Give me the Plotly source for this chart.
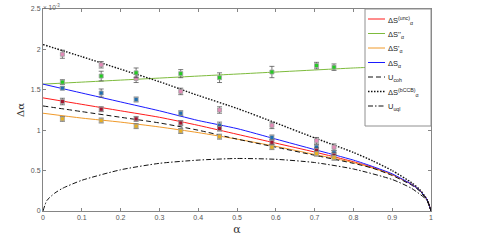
import plotly.graph_objects as go

# ---- curve data (values in units of 1e-3) ----
alpha_curve = [0, 0.1, 0.2, 0.3, 0.4, 0.5, 0.6, 0.7, 0.8, 0.85, 0.9, 0.95, 0.97, 0.99, 1.0]
s_unc   = [1.40, 1.32, 1.24, 1.16, 1.06, 0.95, 0.84, 0.73, 0.61, 0.54, 0.45, 0.33, 0.26, 0.14, 0.0]
s_dd    = [1.57, 1.595, 1.62, 1.645, 1.67, 1.695, 1.72, 1.745, 1.77, 1.78, 1.795, 1.81, 1.815, 1.82, 1.82]
s_d     = [1.21, 1.15, 1.10, 1.04, 0.97, 0.89, 0.80, 0.70, 0.60, 0.53, 0.45, 0.33, 0.26, 0.14, 0.0]
s_plain = [1.57, 1.46, 1.35, 1.24, 1.12, 1.02, 0.89, 0.76, 0.63, 0.55, 0.46, 0.33, 0.26, 0.14, 0.0]
u_coh   = [1.30, 1.23, 1.16, 1.09, 1.00, 0.89, 0.79, 0.69, 0.59, 0.53, 0.44, 0.32, 0.25, 0.13, 0.0]
s_bccb  = [2.06, 1.91, 1.755, 1.60, 1.43, 1.27, 1.09, 0.905, 0.725, 0.62, 0.50, 0.35, 0.27, 0.14, 0.0]

alpha_uql = [0, 0.01, 0.03, 0.05, 0.1, 0.2, 0.3, 0.4, 0.5, 0.6, 0.7, 0.8, 0.9, 0.95, 0.99, 1.0]
u_uql     = [0, 0.13, 0.22, 0.28, 0.38, 0.51, 0.59, 0.63, 0.65, 0.64, 0.60, 0.52, 0.39, 0.28, 0.13, 0.0]

# ---- measured points ----
alpha_pts = [0.05, 0.15, 0.24, 0.355, 0.455, 0.59, 0.705, 0.75]
pts_bccb  = [1.94, 1.81, 1.64, 1.48, 1.25, 1.06, 0.87, 0.79]
pts_dd    = [1.595, 1.67, 1.71, 1.70, 1.65, 1.72, 1.80, 1.78]
pts_plain = [1.52, 1.46, 1.38, 1.21, 1.06, 0.91, 0.79, 0.72]
pts_unc   = [1.355, 1.26, 1.14, 1.09, 1.02, 0.85, 0.75, 0.69]
pts_d     = [1.14, 1.12, 1.05, 0.99, 0.92, 0.79, 0.71, 0.66]
err_bccb  = [0.05, 0.04, 0.05, 0.04, 0.04, 0.04, 0.04, 0.04]
err_dd    = [0.03, 0.06, 0.06, 0.05, 0.06, 0.07, 0.04, 0.04]
err_plain = [0.02, 0.05, 0.03, 0.03, 0.04, 0.03, 0.03, 0.03]
err_unc   = [0.04, 0.03, 0.03, 0.03, 0.03, 0.03, 0.03, 0.03]
err_d     = [0.03, 0.03, 0.03, 0.03, 0.03, 0.03, 0.03, 0.03]

legend_names = ["ΔS<sup>(unc)</sup><sub>α</sub>", "ΔS''<sub>α</sub>", "ΔS'<sub>α</sub>", "ΔS<sub>α</sub>",
                "U<sub>coh</sub>", "ΔS<sup>(bCCB)</sup><sub>α</sub>", "U<sub>uql</sub>"]

FONT = "Liberation Sans, Arial, sans-serif"
AX = "#858585"
W, H = 479, 240
ML, MR, MT, MB = 43, 48, 9, 29
PW, PH = W - ML - MR, H - MT - MB


def px(xpix):
    return (xpix - ML) / PW


def py(ypix):
    return (H - MB - ypix) / PH


fig = go.Figure()

styles = [("#ff1a1a", "solid", 1), ("#7dbb3c", "solid", 1), ("#f09a2a", "solid", 1), ("#1a1aff", "solid", 1),
          ("#111111", "5px,3px", 1), ("#111111", "1.5px,1.5px", 1.4), ("#111111", "5px,2px,1.5px,2px", 1)]
series = [(alpha_curve, s_unc), (alpha_curve, s_dd), (alpha_curve, s_d), (alpha_curve, s_plain),
          (alpha_curve, u_coh), (alpha_curve, s_bccb), (alpha_uql, u_uql)]
for (xs, ys), (col, dash, lw), name in zip(series, styles, legend_names):
    fig.add_trace(go.Scatter(
        x=xs, y=ys, mode="lines", name=name, showlegend=False,
        line=dict(color=col, width=lw, dash=dash, shape="spline", smoothing=0.6),
    ))

markers = [
    (pts_bccb, err_bccb, "#e58ab8"),
    (pts_dd, err_dd, "#22cc22"),
    (pts_plain, err_plain, "#1f6fb0"),
    (pts_unc, err_unc, "#a01530"),
    (pts_d, err_d, "#e8b020"),
]
for ys, es, col in markers:
    fig.add_trace(go.Scatter(
        x=alpha_pts, y=ys, mode="markers", showlegend=False,
        marker=dict(symbol="square", size=4, color=col, line=dict(color="#a0a0a0", width=0.8)),
        error_y=dict(type="data", array=es, visible=True, color="#444444", thickness=0.7, width=2.5),
    ))

# ---- hand-built legend box (matches MATLAB-style compact legend) ----
shapes = [dict(type="rect", xref="paper", yref="paper", x0=px(365), x1=1.0, y0=py(126), y1=1.0,
               fillcolor="white", line=dict(color="#909090", width=1), layer="above")]
annots = []
for i, (name, (col, dash, lw)) in enumerate(zip(legend_names, styles)):
    yc = 19 + 14.5 * i
    shapes.append(dict(type="line", xref="paper", yref="paper", x0=px(368), x1=px(385), y0=py(yc), y1=py(yc),
                       line=dict(color=col, width=lw, dash=dash), layer="above"))
    annots.append(dict(x=px(386), y=py(yc), xref="paper", yref="paper", xanchor="left", yanchor="middle",
                       text=name, showarrow=False, font=dict(size=7.5, color="#222222", family=FONT),
                       yshift=-1))

annots.append(dict(x=0, y=1, xref="paper", yref="paper", xanchor="left", yanchor="bottom",
                   text="× 10<sup>-3</sup>", showarrow=False, font=dict(size=6.5, color="#666666", family=FONT),
                   xshift=-2, yshift=-4))

fig.update_layout(
    width=W, height=H,
    margin=dict(l=ML, r=MR, t=MT, b=MB),
    paper_bgcolor="white", plot_bgcolor="white",
    font=dict(family=FONT, size=8, color="#555555"),
    showlegend=False,
    shapes=shapes, annotations=annots,
    xaxis=dict(range=[0, 1], tickvals=[0, 0.1, 0.2, 0.3, 0.4, 0.5, 0.6, 0.7, 0.8, 0.9, 1],
               ticktext=["0", "0.1", "0.2", "0.3", "0.4", "0.5", "0.6", "0.7", "0.8", "0.9", "1"],
               showline=True, linecolor=AX, linewidth=1, mirror="ticks", ticks="inside", ticklen=3,
               tickcolor=AX, showgrid=False, zeroline=False, tickfont=dict(size=7, color="#555555"),
               automargin=False,
               title=dict(text="α", font=dict(size=11, color="#333333", family="DejaVu Serif"), standoff=4)),
    yaxis=dict(range=[0, 2.5], tickvals=[0, 0.5, 1, 1.5, 2, 2.5], ticktext=["0", "0.5", "1", "1.5", "2", "2.5"],
               showline=True, linecolor=AX, linewidth=1, mirror="ticks", ticks="inside", ticklen=3,
               tickcolor=AX, showgrid=False, zeroline=False, tickfont=dict(size=7, color="#555555"),
               automargin=False,
               title=dict(text="Δα", font=dict(size=10, color="#333333", family="DejaVu Serif"), standoff=4)),
)

fig.write_html("out.html", config={"displayModeBar": False},
               post_script="document.body.style.margin='0';")
